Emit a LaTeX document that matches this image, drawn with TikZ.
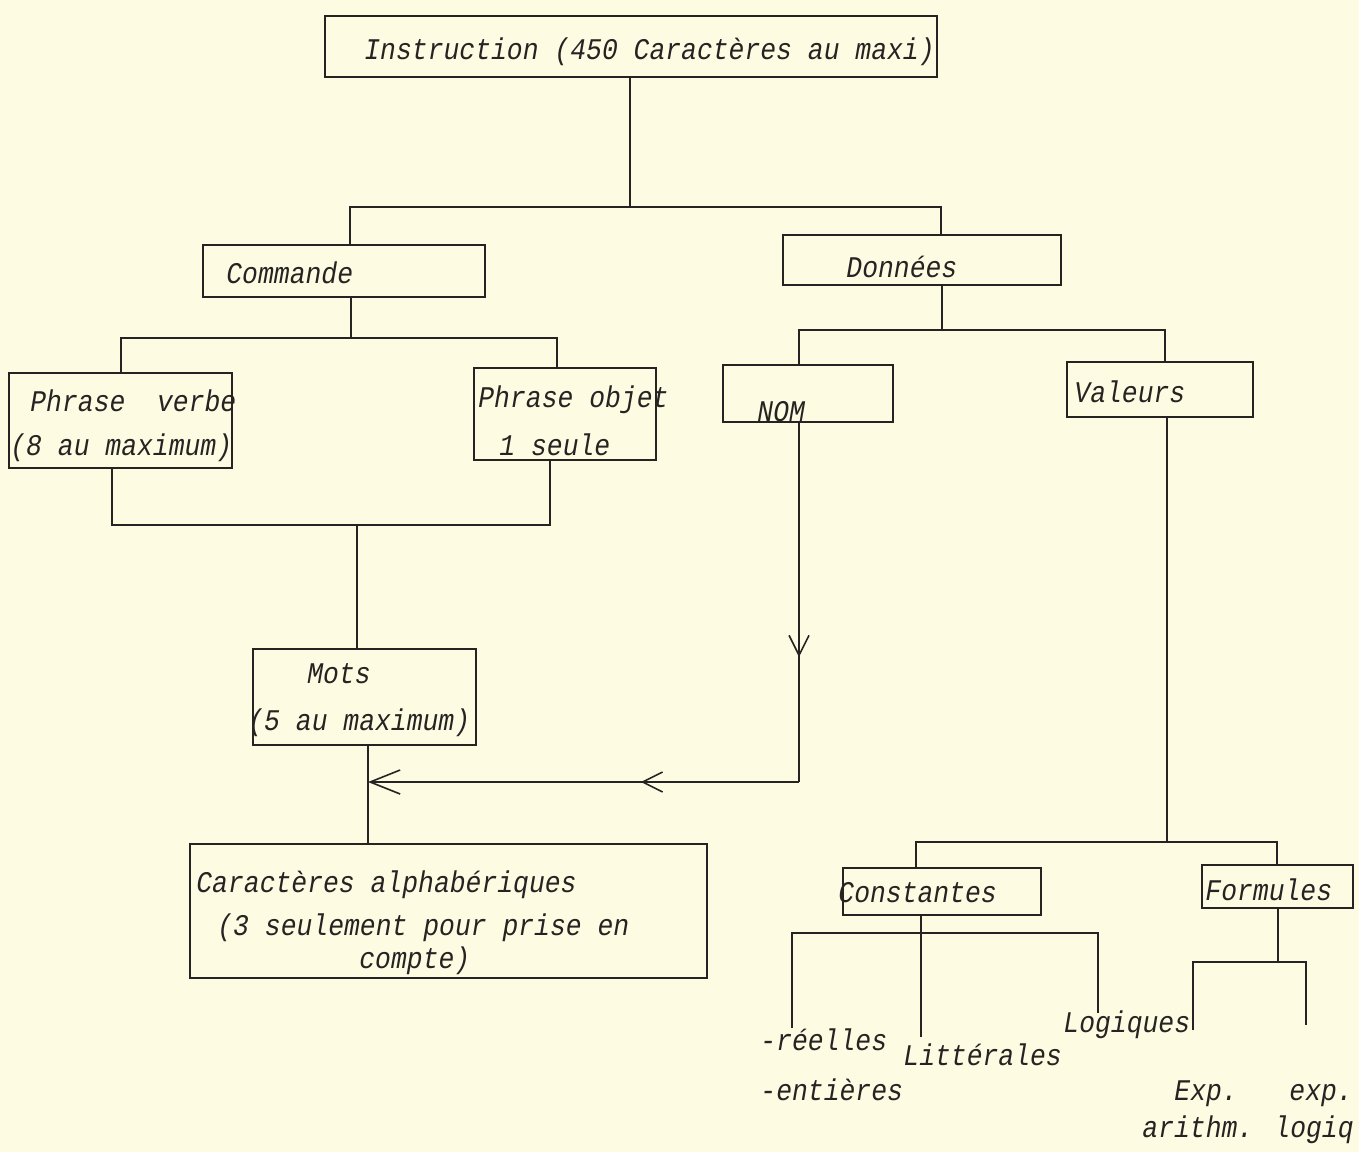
\documentclass[tikz,border=0pt]{standalone}
\usepackage{fontspec}
\newfontfamily\tw[FakeStretch=0.88]{Liberation Mono}
\usetikzlibrary{arrows.meta,fit,decorations.markings}
\definecolor{paper}{RGB}{253,251,226}
\definecolor{ink}{RGB}{38,36,34}
\begin{document}
\begin{tikzpicture}[x=0.5pt,y=-0.5pt,
  box/.style={draw=ink,line width=0.9pt,inner sep=0pt,rectangle},
  conn/.style={draw=ink,line width=0.8pt},
  lbl/.style={anchor=base west,inner sep=0pt,text=ink,font=\tw\itshape\fontsize{15}{18}\selectfont},
  barb/.style={Straight Barb[length=15pt,width=12pt,line width=0.8pt]},
  midarrow/.style={postaction={decorate},decoration={markings,
     mark=at position #1 with {\arrow{Straight Barb[length=10pt,width=10pt,line width=0.8pt]}}}}]
\fill[paper] (0,0) rectangle (1359,1152);
\useasboundingbox (0,0) rectangle (1359,1152);

% boxes
\node[box,fit={(325,16) (937,77)}] (instr) {};
\node[box,fit={(203,245) (485,297)}] (cmd) {};
\node[box,fit={(783,235) (1061,285)}] (don) {};
\node[box,fit={(9,373) (232,468)}] (pv) {};
\node[box,fit={(474,368) (656,460)}] (po) {};
\node[box,fit={(723,365) (893,422)}] (nom) {};
\node[box,fit={(1067,362) (1253,417)}] (val) {};
\node[box,fit={(253,649) (476,745)}] (mots) {};
\node[box,fit={(190,844) (707,978)}] (car) {};
\node[box,fit={(843,868) (1041,915)}] (cst) {};
\node[box,fit={(1202,865) (1353,908)}] (frm) {};

% texts
\node[lbl] (t-instr) at (364,59) {Instruction (450 Caractères au maxi)};
\node[lbl] (t-cmd) at (226,283) {Commande};
\node[lbl] (t-don) at (846,277) {Données};
\node[lbl] (t-pv1) at (30,411) {Phrase\ \ verbe};
\node[lbl] (t-pv2) at (10,455) {(8 au maximum)};
\node[lbl] (t-po1) at (478,407) {Phrase objet};
\node[lbl] (t-po2) at (499,455) {1 seule};
\node[lbl] (t-nom) at (757,421) {NOM};
\node[lbl] (t-val) at (1074,402) {Valeurs};
\node[lbl] (t-mots) at (307,683) {Mots};
\node[lbl] (t-mots2) at (248,730) {(5 au maximum)};
\node[lbl] (t-car1) at (196,892) {Caractères alphabériques};
\node[lbl] (t-car2) at (217,935) {(3 seulement pour prise en};
\node[lbl] (t-car3) at (359,968) {compte)};
\node[lbl] (t-cst) at (838,902) {Constantes};
\node[lbl] (t-frm) at (1205,900) {Formules};
\node[lbl] (t-reel) at (760,1050) {-réelles};
\node[lbl] (t-ent) at (760,1100) {-entières};
\node[lbl] (t-litt) at (903,1065) {Littérales};
\node[lbl] (t-log) at (1063,1032) {Logiques};
\node[lbl] (t-exp1) at (1174,1100) {Exp.};
\node[lbl] (t-exp2) at (1289,1100) {exp.};
\node[lbl] (t-ari) at (1142,1137) {arithm. logiq};

% attachment points and junctions
\coordinate (iB) at (630,77);
\coordinate (jA) at (630,207);
\coordinate (cT) at (350,245);
\coordinate (dT) at (941,235);
\coordinate (cB) at (351,297);
\coordinate (jB) at (351,338);
\coordinate (pvT) at (121,373);
\coordinate (poT) at (557,368);
\coordinate (pvB) at (112,468);
\coordinate (poB) at (550,460);
\coordinate (jC) at (357,525);
\coordinate (mT) at (357,649);
\coordinate (mB) at (368,745);
\coordinate (aJ) at (368,782);
\coordinate (caT) at (368,844);
\coordinate (dB) at (942,285);
\coordinate (jD) at (942,330);
\coordinate (nT) at (799,365);
\coordinate (vT) at (1165,362);
\coordinate (nB) at (799,422);
\coordinate (nC) at (799,782);
\coordinate (vB) at (1167,417);
\coordinate (jE) at (1167,842);
\coordinate (kT) at (916,868);
\coordinate (fT) at (1277,865);
\coordinate (kB) at (921,915);
\coordinate (jF) at (921,933);
\coordinate (lReel) at (792,1028);
\coordinate (lLitt) at (921,1037);
\coordinate (lLog) at (1098,1013);
\coordinate (fB) at (1278,908);
\coordinate (jG) at (1278,962);
\coordinate (lExA) at (1193,1030);
\coordinate (lExB) at (1306,1025);

% connectors
\draw[conn] (iB) -- (jA);
\draw[conn] (cT) |- (jA) -| (dT);
\draw[conn] (cB) -- (jB);
\draw[conn] (pvT) |- (jB) -| (poT);
\draw[conn] (pvB) |- (jC) -| (poB);
\draw[conn] (jC) -- (mT);
\draw[conn] (mB) -- (caT);
\draw[conn] (dB) -- (jD);
\draw[conn] (nT) |- (jD) -| (vT);
\draw[conn,midarrow=0.653] (nB) -- (nC);
\draw[conn,midarrow=0.367,-{Straight Barb[length=15pt,width=12pt,line width=0.8pt]}] (nC) -- (aJ);
\draw[conn] (vB) -- (jE);
\draw[conn] (kT) |- (jE) -| (fT);
\draw[conn] (kB) -- (jF);
\draw[conn] (lReel) |- (jF) -| (lLog);
\draw[conn] (jF) -- (lLitt);
\draw[conn] (fB) -- (jG);
\draw[conn] (lExA) |- (jG) -| (lExB);
\end{tikzpicture}
\end{document}
